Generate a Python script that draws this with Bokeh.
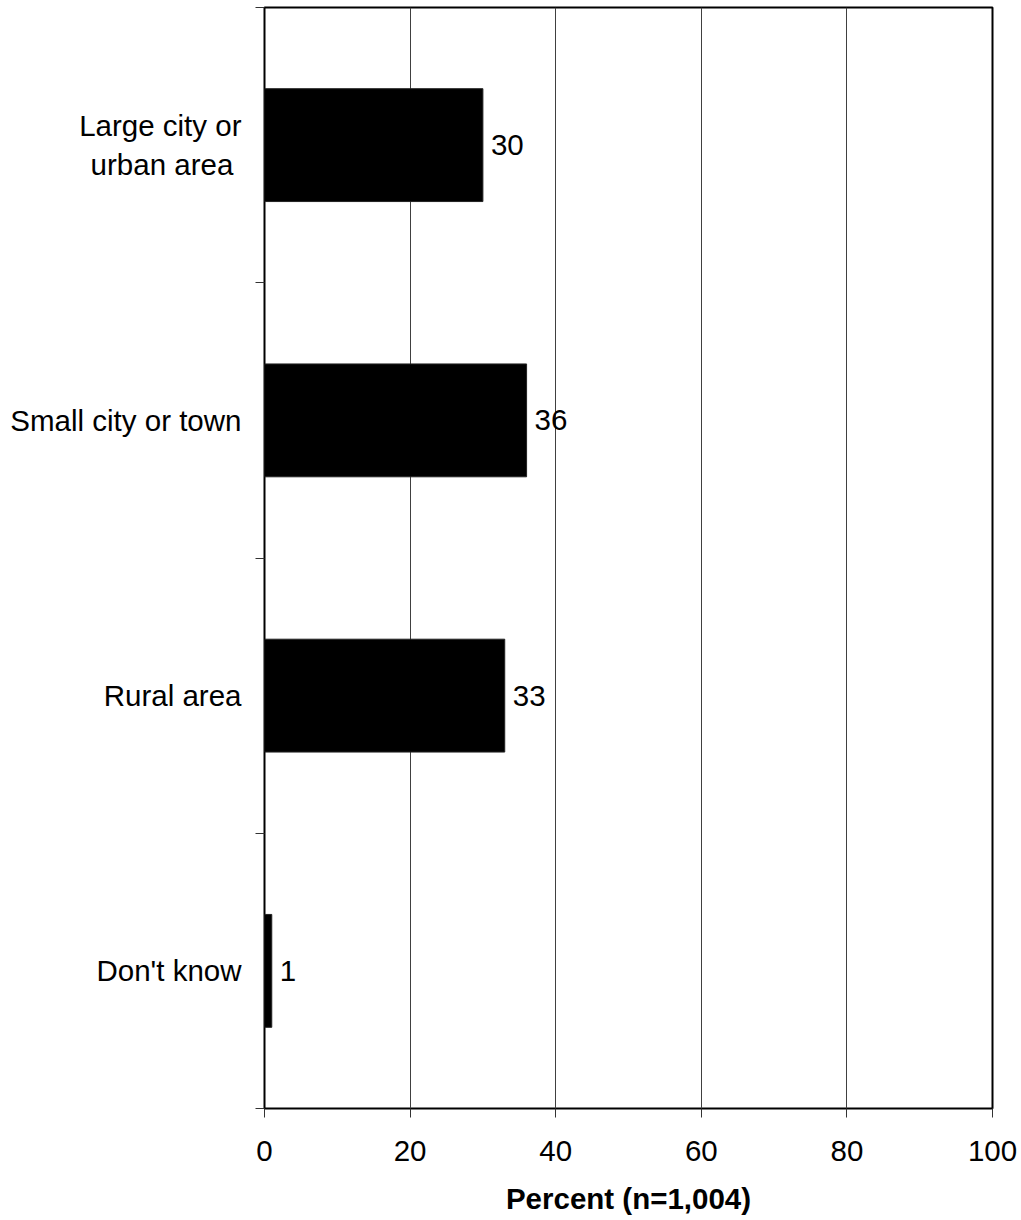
from bokeh.plotting import figure
from bokeh.models import ColumnDataSource, FixedTicker, Range1d
from bokeh.core.properties import value
from bokeh.embed import file_html
from bokeh.resources import INLINE

categories = ["Large city or\nurban area\u00a0", "Small city or town", "Rural area", "Don't know"]
percents = [30, 36, 33, 1]
x_ticks = [0, 20, 40, 60, 80, 100]
axis_title = "Percent (n=1,004)"

n = len(categories)
ypos = [n - i - 0.5 for i in range(n)]
src = ColumnDataSource(dict(y=ypos, v=percents, lbl=[str(v) for v in percents]))

FONT = "Liberation Sans"
FS = "29.5px"

p = figure(width=1020, height=1218, output_backend="svg", toolbar_location=None,
           x_range=Range1d(0, 100), y_range=Range1d(0, n),
           min_border_left=264, min_border_right=28, min_border_top=7, min_border_bottom=110)

p.hbar(y="y", right="v", left=0, height=0.41, source=src, fill_color="black", line_color="#222222")
p.text(x="v", y="y", text="lbl", source=src, x_offset=8, text_baseline="middle", text_align="left",
       text_font=value(FONT), text_font_size=FS, text_color="black")

p.outline_line_color = "black"
p.outline_line_width = 2
p.background_fill_color = "white"
p.border_fill_color = "white"

# grid
p.ygrid.grid_line_color = None
p.xgrid.ticker = FixedTicker(ticks=x_ticks)
p.xgrid.grid_line_color = "#404040"
p.xgrid.grid_line_width = 1

# x axis
xa = p.xaxis[0]
xa.ticker = FixedTicker(ticks=x_ticks)
xa.axis_line_color = None
xa.major_tick_out = 9
xa.major_tick_in = 0
xa.major_tick_line_color = "#333333"
xa.minor_tick_line_color = None
xa.major_label_text_font = FONT
xa.major_label_text_font_size = FS
xa.major_label_text_color = "black"
xa.major_label_standoff = 23
xa.axis_label = axis_title
xa.axis_label_text_font = FONT
xa.axis_label_text_font_size = FS
xa.axis_label_text_font_style = "bold"
xa.axis_label_text_color = "black"
xa.axis_label_standoff = 18

# y axis
ya = p.yaxis[0]
ya.ticker = FixedTicker(ticks=ypos, minor_ticks=list(range(n + 1)))
ya.major_label_overrides = {y: c for y, c in zip(ypos, categories)}
ya.axis_line_color = None
ya.major_tick_out = 0
ya.major_tick_in = 0
ya.major_tick_line_color = None
ya.minor_tick_out = 9
ya.minor_tick_in = 0
ya.minor_tick_line_color = "#333333"
ya.major_label_text_font = FONT
ya.major_label_text_font_size = FS
ya.major_label_text_color = "black"
ya.major_label_standoff = 14

open("out.html", "w").write(file_html(p, INLINE))
